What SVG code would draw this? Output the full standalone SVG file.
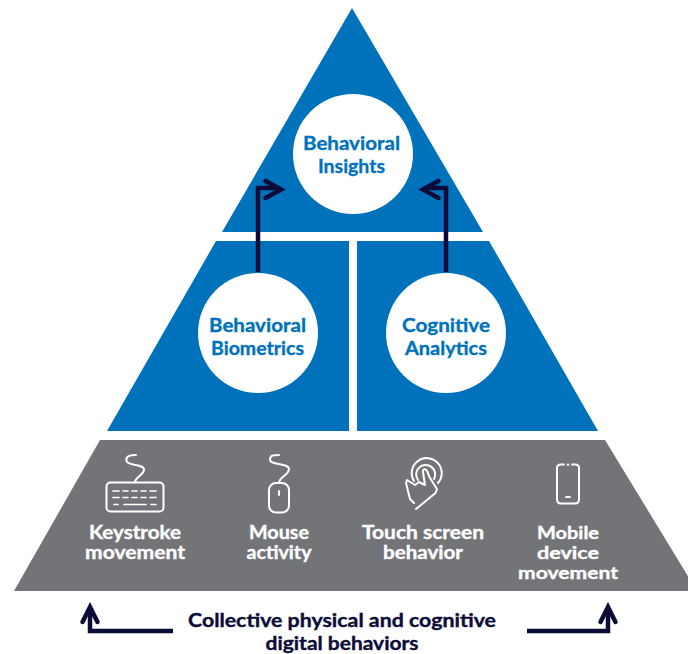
<svg xmlns="http://www.w3.org/2000/svg" width="688" height="654" viewBox="0 0 688 654">
<style>
.blue{fill:#0072bc}
.grey{fill:#737478}
.disc{fill:#fff}
.t{font-family:"Lato","Liberation Sans",sans-serif;font-weight:700;text-anchor:middle;stroke-width:.35px}
.tb{fill:#0072bc;stroke:#0072bc;font-size:19px}
.tw{fill:#fff;stroke:#fff;font-size:18px}
.tm{fill:#fff;stroke:#fff;font-size:16.500px}
.td{fill:#0c0c38;stroke:#0c0c38;font-size:18px}
.ic{fill:none;stroke:#fff;stroke-width:2;stroke-linecap:round;stroke-linejoin:round}
.ar{fill:none;stroke:#0c0c38;stroke-width:4.5;stroke-linejoin:miter}
.hd{fill:none;stroke:#0c0c38;stroke-width:4.5;stroke-linecap:round;stroke-linejoin:miter}
</style>
<rect width="688" height="654" fill="#fff"/>
<g id="tier-top"><polygon class="blue" points="352,8 483,232 222,232"/></g>
<g id="tier-mid-left"><polygon class="blue" points="216,241 349,241 349,431 107,431"/></g>
<g id="tier-mid-right"><polygon class="blue" points="357,241 489,241 598,431 357,431"/></g>
<g id="tier-base"><polygon class="grey" points="100,440 605,440 697,591 14,591"/></g>
<g id="behavioral-insights"><circle class="disc" cx="353" cy="154" r="60"/>
<text class="t tb" x="351.500" y="150" textLength="97" lengthAdjust="spacingAndGlyphs">Behavioral</text><text class="t tb" x="351.500" y="173" textLength="67" lengthAdjust="spacingAndGlyphs">Insights</text></g>
<g id="behavioral-biometrics"><circle class="disc" cx="258" cy="333" r="60"/>
<text class="t tb" x="257.500" y="332" textLength="97" lengthAdjust="spacingAndGlyphs">Behavioral</text><text class="t tb" x="257.500" y="355" textLength="93" lengthAdjust="spacingAndGlyphs">Biometrics</text></g>
<g id="cognitive-analytics"><circle class="disc" cx="446" cy="333" r="60"/>
<text class="t tb" x="446" y="332" textLength="88" lengthAdjust="spacingAndGlyphs">Cognitive</text><text class="t tb" x="446" y="355" textLength="82" lengthAdjust="spacingAndGlyphs">Analytics</text></g>
<g id="connectors">
<path class="ar" d="M258 272V188H280"/><path class="hd" d="M265.500 181L281 189.500L265.500 198"/>
<path class="ar" d="M446 272V188H424"/><path class="hd" d="M438.500 181L423 189.500L438.500 198"/>
<path class="ar" d="M173 631H90V610"/><path class="hd" d="M82.500 622L90 607L97.500 622"/>
<path class="ar" d="M527 631H608V610"/><path class="hd" d="M600.500 622L608 607L615.500 622"/>
</g>
<g id="keystroke">
<g class="ic">
<rect x="106.500" y="482.500" width="57" height="29" rx="4"/>
<path d="M135 482.500C135 477 144 475 144 469.500C144 464 128 466 126.500 461C125.500 456 130 455 136 455"/>
<path d="M113 491H119M123 491H128M132 491H137M141 491H146M150 491H156M113 497.500H119M123 497.500H128M132 497.500H137M141 497.500H146M150 497.500H156M114 504.500H118M124 504.500H146M151 504.500H156" stroke-width="1.700"/>
</g>
<text class="t tw" x="135" y="539" textLength="92" lengthAdjust="spacingAndGlyphs">Keystroke</text><text class="t tw" x="135" y="559" textLength="100" lengthAdjust="spacingAndGlyphs">movement</text></g>
<g id="mouse">
<g class="ic">
<rect x="269" y="483" width="20" height="29.500" rx="7"/>
<path d="M279 483C279 477 289 475 289 469C289 463 270 465 270 460C270 455 273 455 279 455"/>
<path d="M279 491V495"/>
</g>
<text class="t tw" x="279" y="539" textLength="60" lengthAdjust="spacingAndGlyphs">Mouse</text><text class="t tw" x="279" y="559" textLength="65" lengthAdjust="spacingAndGlyphs">activity</text></g>
<g id="touch">
<g class="ic">
<path d="M418 480A9.500 9.500 0 1 1 434 479M414 481A15 15 0 1 1 438 483"/>
<path d="M416 509L435.500 493L437 489L430 478L427 471C425.500 468 422.500 469 423 472L425 485L419 482L415 485L407 480L406 483L410 499L414 503"/>
</g>
<text class="t tw" x="423" y="539" textLength="122" lengthAdjust="spacingAndGlyphs">Touch screen</text><text class="t tw" x="423" y="559" textLength="80" lengthAdjust="spacingAndGlyphs">behavior</text></g>
<g id="mobile">
<g class="ic">
<path d="M564 464.500H561C558 464.500 557 466 557 468V499C557 502 558 503.500 561 503.500H575C578 503.500 579 502 579 499V468C579 466 578 464.500 575 464.500H572"/>
<path d="M568 464.500V465M566 497H570"/>
</g>
<text class="t tm" x="568" y="539" textLength="62" lengthAdjust="spacingAndGlyphs">Mobile</text><text class="t tm" x="568" y="558.500" textLength="62" lengthAdjust="spacingAndGlyphs">device</text><text class="t tm" x="568" y="578.500" textLength="100" lengthAdjust="spacingAndGlyphs">movement</text></g>
<g id="caption"><text class="t td" x="342" y="627" textLength="308" lengthAdjust="spacingAndGlyphs">Collective physical and cognitive</text><text class="t td" x="342" y="650" textLength="153" lengthAdjust="spacingAndGlyphs">digital behaviors</text></g>
</svg>
